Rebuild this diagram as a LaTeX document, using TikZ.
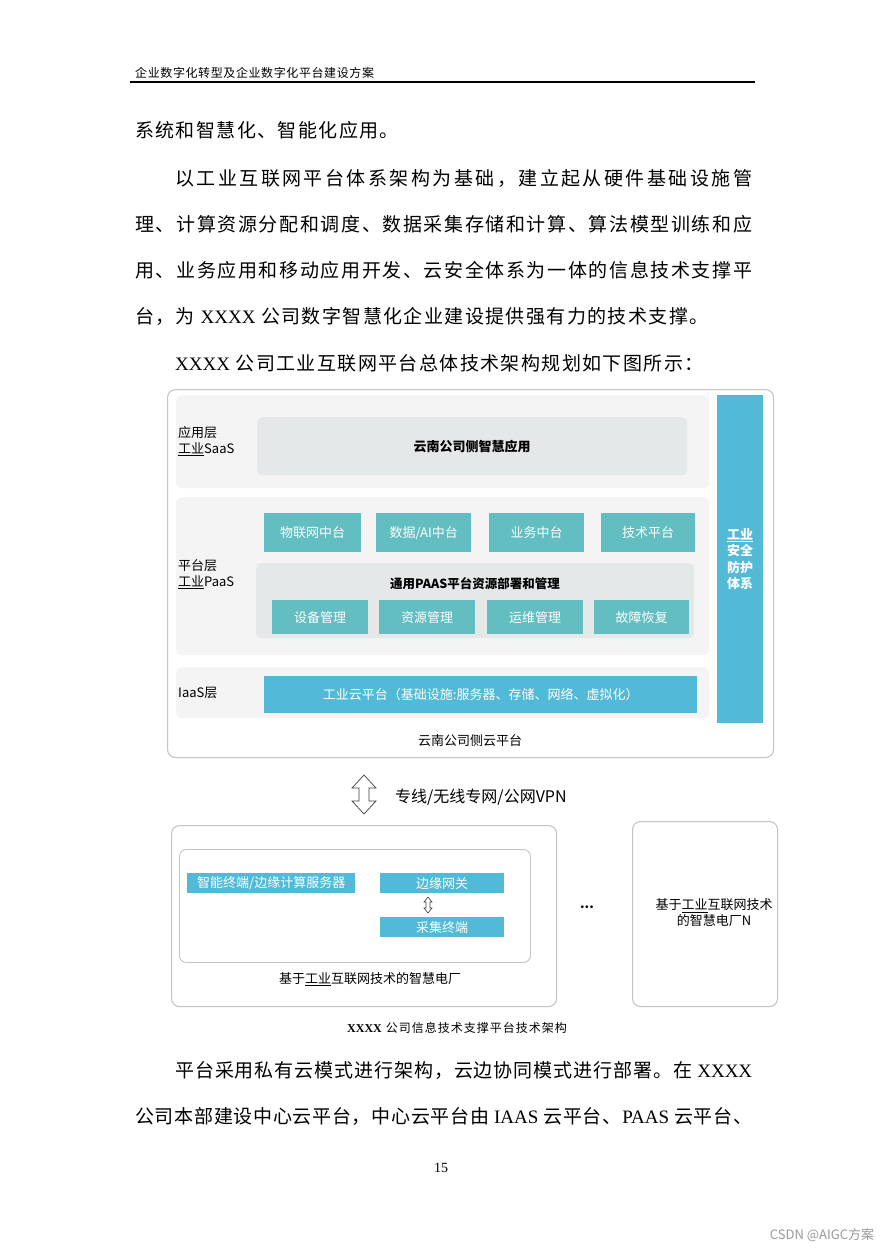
\documentclass[tikz,border=0pt]{standalone}
\usepackage{fontspec}
\setmainfont{Noto Sans CJK SC}
\newfontfamily\serifx{Liberation Serif}
\definecolor{tealbox}{HTML}{62BEC0}
\definecolor{bluebox}{HTML}{52BAD6}
\definecolor{panelfill}{HTML}{F4F4F4}
\definecolor{innerfill}{HTML}{E5E8E9}
\definecolor{framecol}{HTML}{C4C4C4}
\definecolor{wmark}{HTML}{9A9A9A}
\def\spreadmark{\spreadend}
\def\spreadrun#1{\spreadfirst#1\spreadend}
\def\spreadfirst#1{#1\spreadstep}
\def\spreadstep#1{\def\spreadtmp{#1}\ifx\spreadtmp\spreadmark\else\spreadgap#1\expandafter\spreadstep\fi}
\newcommand\jline[2]{\hbox to #1{\def\spreadgap{\hfill}\spreadrun{#2}}}
\newcommand\gline[2]{\hbox{\def\spreadgap{\hskip#1\relax}\spreadrun{#2}}}
\newcommand\xx[1]{{\serifx\fontsize{19}{22}\selectfont #1}}
\tikzset{
  bodytext/.style={anchor=west, inner sep=0, font=\fontsize{19}{22}\selectfont},
  panelbox/.style={anchor=north west, fill=panelfill, rounded corners=6pt, inner sep=0},
  innerbox/.style={anchor=north west, fill=innerfill, rounded corners=5pt, inner sep=0},
  tealnode/.style={anchor=north west, fill=tealbox, text=white, inner sep=0, font=\fontsize{13}{15}\selectfont},
  bluenode/.style={anchor=north west, fill=bluebox, text=white, inner sep=0, font=\fontsize{13}{15}\selectfont},
  framebox/.style={anchor=north west, draw=framecol, line width=1.1pt, rounded corners=8pt, inner sep=0},
  lbl/.style={inner sep=0, font=\fontsize{13}{16}\selectfont},
  hollowarrow/.style={draw=black!75, line width=0.7pt, fill=white, line join=miter}
}
\begin{document}
\begin{tikzpicture}[x=1pt,y=-1pt]
\useasboundingbox (0,0) rectangle (885,1252);
\fill[white] (0,0) rectangle (885,1252);
% header
\node[anchor=west, inner sep=0, font=\fontsize{12}{14}\selectfont] (hdr) at (135,73) {\gline{0.6pt}{企业数字化转型及企业数字化平台建设方案}};
\coordinate (hl) at (130,82);
\coordinate (hr) at (755,82);
\draw[line width=1.8pt] (hl) -- (hr);
% body text top
\node[bodytext] (t1) at (135,130) {\gline{1.4pt}{系统和智慧化、智能化应用。}};
\node[bodytext] (t2) at (175,178) {\jline{577pt}{以工业互联网平台体系架构为基础，建立起从硬件基础设施管}};
\node[bodytext] (t3) at (135,224) {\jline{617pt}{理、计算资源分配和调度、数据采集存储和计算、算法模型训练和应}};
\node[bodytext] (t4) at (135,270) {\jline{617pt}{用、业务应用和移动应用开发、云安全体系为一体的信息技术支撑平}};
\node[bodytext] (t5) at (135,316) {\gline{1.4pt}{台，为{{\ \xx{XXXX}\ }}公司数字智慧化企业建设提供强有力的技术支撑。}};
\node[bodytext] (t6) at (175,363) {\gline{1.4pt}{{{\xx{XXXX}\ }}公司工业互联网平台总体技术架构规划如下图所示：}};
% cloud platform frame
\node[framebox, minimum width=606pt, minimum height=368pt] (cloud) at (167,389) {};
% SaaS
\node[panelbox, minimum width=533pt, minimum height=93pt] (saas) at (176,395) {};
\node[innerbox, minimum width=430pt, minimum height=58pt, font=\bfseries\fontsize{13}{15}\selectfont] (app) at (257,417) {云南公司侧智慧应用};
\node[lbl, anchor=west, align=left] (saaslbl) at (178,441) {应用层\\\underline{工业}SaaS};
% PaaS
\node[panelbox, minimum width=533pt, minimum height=158pt] (paas) at (176,497) {};
\node[tealnode, minimum width=97pt, minimum height=39pt] (p1) at (264,513) {物联网中台};
\node[tealnode, minimum width=95pt, minimum height=39pt] (p2) at (376,513) {数据/AI中台};
\node[tealnode, minimum width=95pt, minimum height=39pt] (p3) at (489,513) {业务中台};
\node[tealnode, minimum width=94pt, minimum height=39pt] (p4) at (601,513) {技术平台};
\node[innerbox, minimum width=438pt, minimum height=75pt] (gen) at (256,563) {};
\node[inner sep=0, font=\bfseries\fontsize{12.5}{15}\selectfont] (gentitle) at (475,584) {通用PAAS平台资源部署和管理};
\node[tealnode, minimum width=96pt, minimum height=34pt] (q1) at (272,600) {设备管理};
\node[tealnode, minimum width=96pt, minimum height=34pt] (q2) at (379,600) {资源管理};
\node[tealnode, minimum width=96pt, minimum height=34pt] (q3) at (487,600) {运维管理};
\node[tealnode, minimum width=95pt, minimum height=34pt] (q4) at (594,600) {故障恢复};
\node[lbl, anchor=west, align=left] (paaslbl) at (178,574) {平台层\\\underline{工业}PaaS};
% IaaS
\node[panelbox, minimum width=533pt, minimum height=51pt] (iaas) at (176,667) {};
\node[bluenode, minimum width=433pt, minimum height=37pt] (ind) at (264,676) {工业云平台（基础设施:服务器、存储、网络、虚拟化）};
\node[lbl, anchor=west] (iaaslbl) at (178,693) {IaaS层};
% security bar
\node[bluenode, minimum width=46pt, minimum height=328pt] (sec) at (717,395) {};
\node[inner sep=0, text=white, align=center, font=\bfseries\fontsize{13}{16.5}\selectfont] (sectxt) at (740,559) {\underline{工业}\\安全\\防护\\体系};
\node[lbl] (cloudcap) at (470,741) {云南公司侧云平台};
% big double arrow
\coordinate (ba) at (364,775);
\draw[hollowarrow] (ba) -- ++(12,13) -- ++(-7,0) -- ++(0,13) -- ++(7,0) -- ++(-12,13) -- ++(-12,-13) -- ++(7,0) -- ++(0,-13) -- ++(-7,0) -- cycle;
\node[inner sep=0, anchor=west, font=\fontsize{16}{18}\selectfont] (vpn) at (395,797) {专线/无线专网/公网VPN};
% plant frame
\node[framebox, minimum width=385pt, minimum height=181pt] (plant) at (171,825) {};
\node[framebox, line width=0.9pt, rounded corners=7pt, minimum width=351pt, minimum height=113pt] (edge) at (179,849) {};
\node[bluenode, minimum width=168pt, minimum height=20pt] (term) at (187,873) {智能终端/边缘计算服务器};
\node[bluenode, minimum width=124pt, minimum height=20pt] (gw) at (380,873) {边缘网关};
\node[bluenode, minimum width=124pt, minimum height=20pt] (coll) at (380,917) {采集终端};
\coordinate (sa) at (428,897);
\draw[hollowarrow, line width=0.6pt] (sa) -- ++(4,5) -- ++(-2,0) -- ++(0,6) -- ++(2,0) -- ++(-4,5) -- ++(-4,-5) -- ++(2,0) -- ++(0,-6) -- ++(-2,0) -- cycle;
\node[lbl] (plantcap) at (370,979) {基于\underline{工业}互联网技术的智慧电厂};
\node[inner sep=0, font=\bfseries\fontsize{13}{15}\selectfont] (dots) at (587,907) {...};
\node[framebox, minimum width=145pt, minimum height=185pt] (plantn) at (632,821) {};
\node[lbl, align=center] (plantntxt) at (714,913) {基于\underline{工业}互联网技术\\的智慧电厂N};
% figure caption
\node[inner sep=0, font=\fontsize{12}{14}\selectfont] (figcap) at (457,1028) {\gline{1pt}{{{\serifx\bfseries XXXX\ }}公司信息技术支撑平台技术架构}};
% body text bottom
\node[bodytext] (b1) at (175,1070) {\jline{577pt}{平台采用私有云模式进行架构，云边协同模式进行部署。在{{\ \xx{XXXX}}}}};
\node[bodytext] (b2) at (135,1116) {\jline{617pt}{公司本部建设中心云平台，中心云平台由{{\ \xx{IAAS}\ }}云平台、{{\xx{PAAS}\ }}云平台、}};
% page number
\node[inner sep=0, font=\serifx\fontsize{14}{16}\selectfont] (pg) at (441,1168) {15};
% watermark
\node[inner sep=0, text=wmark, font=\fontsize{13}{15}\selectfont] (wm) at (822,1235) {CSDN @AIGC方案};
\end{tikzpicture}
\end{document}
